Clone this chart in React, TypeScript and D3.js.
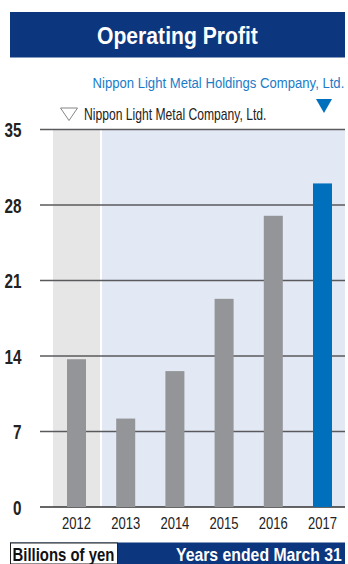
import React from "react";
import * as d3 from "d3";

const years = ["2012", "2013", "2014", "2015", "2016", "2017"];
const profit = [13.7, 8.2, 12.6, 19.3, 27.0, 30.0];
const yTicks = [0, 7, 14, 21, 28, 35];

const W = 348;
const H = 564;
const FONT = "'Liberation Sans', Arial, sans-serif";
const NAVY = "#0c367d";
const BLUE = "#0070bd";

let ctx: CanvasRenderingContext2D | null = null;
function measure(text: string, size: number, bold: boolean) {
  if (!ctx) ctx = document.createElement("canvas").getContext("2d");
  if (!ctx) return text.length * size * 0.55;
  ctx.font = `${bold ? "bold " : ""}${size}px ${FONT}`;
  return ctx.measureText(text).width;
}

type FitProps = {
  x: number; // left edge
  y: number; // baseline
  width: number; // target width
  size: number;
  bold?: boolean;
  fill: string;
  children: string;
};

function Fit({ x, y, width, size, bold = false, fill, children }: FitProps) {
  const natural = measure(children, size, bold);
  const s = width / natural;
  return (
    <text
      transform={`translate(${x},${y}) scale(${s},1)`}
      fontSize={size}
      fontWeight={bold ? "bold" : "normal"}
      fill={fill}
    >
      {children}
    </text>
  );
}

export default function App() {
  const y = d3.scaleLinear().domain([0, 35]).range([507, 129.5]);
  const x = d3.scalePoint<string>().domain(years).range([76.5, 322.5]);
  const bw = 19;
  const gridX0 = 40;
  const gridX1 = 345;

  return (
    <svg
      width={W}
      height={H}
      style={{ position: "absolute", left: 0, top: 0, background: "#fff" }}
      fontFamily={FONT}
    >
      {/* Title */}
      <rect x={10} y={12} width={335} height={45.5} fill={NAVY} />
      <Fit x={97} y={44.3} width={161} size={24.5} bold fill="#fff">
        Operating Profit
      </Fit>

      {/* Holdings legend */}
      <Fit x={92.5} y={88.3} width={252} size={15} fill="#1a7cc9">
        Nippon Light Metal Holdings Company, Ltd.
      </Fit>
      <path d="M316,99 L332,99 L324,113 Z" fill={BLUE} />

      {/* Company legend */}
      <path d="M60.5,108 L77.5,108 L69,120.5 Z" fill="none" stroke="#777" strokeWidth={0.9} />
      <Fit x={84} y={119.5} width={182.5} size={16} fill="#222">
        Nippon Light Metal Company, Ltd.
      </Fit>

      {/* Backgrounds */}
      <rect x={53} y={y(35)} width={47} height={y(0) - y(35)} fill="#e6e6e7" />
      <rect x={102} y={y(35)} width={gridX1 - 102} height={y(0) - y(35)} fill="#e2e8f4" />

      {/* Grid lines */}
      {yTicks.map((t) => (
        <line
          key={t}
          x1={gridX0}
          x2={gridX1}
          y1={y(t)}
          y2={y(t)}
          stroke={t === 0 ? "#333" : "#5a5a5c"}
          strokeWidth={1.5}
        />
      ))}

      {/* Bars */}
      {years.map((yr, i) => (
        <rect
          key={yr}
          x={(x(yr) as number) - bw / 2}
          y={y(profit[i])}
          width={bw}
          height={y(0) - y(profit[i])}
          fill={i === years.length - 1 ? BLUE : "#939598"}
        />
      ))}

      {/* Y tick labels */}
      {yTicks.map((t) => {
        const s = String(t);
        return (
          <Fit
            key={t}
            x={21.5 - s.length * 8.5}
            y={y(t) + 7.5}
            width={s.length * 8.5}
            size={19.5}
            bold
            fill="#222"
          >
            {s}
          </Fit>
        );
      })}

      {/* X labels */}
      {years.map((yr) => (
        <Fit key={yr} x={(x(yr) as number) - 14.5} y={528.5} width={29} size={17} fill="#222">
          {yr}
        </Fit>
      ))}

      {/* Bottom bar */}
      <rect x={10} y={542.5} width={335} height={22} fill={NAVY} />
      <rect x={10.5} y={543} width={107} height={21} fill="#fff" stroke="#222" strokeWidth={1} />
      <Fit x={12.5} y={560.5} width={102} size={18} bold fill="#111">
        Billions of yen
      </Fit>
      <Fit x={176} y={560.5} width={166} size={18} bold fill="#fff">
        Years ended March 31
      </Fit>
    </svg>
  );
}
